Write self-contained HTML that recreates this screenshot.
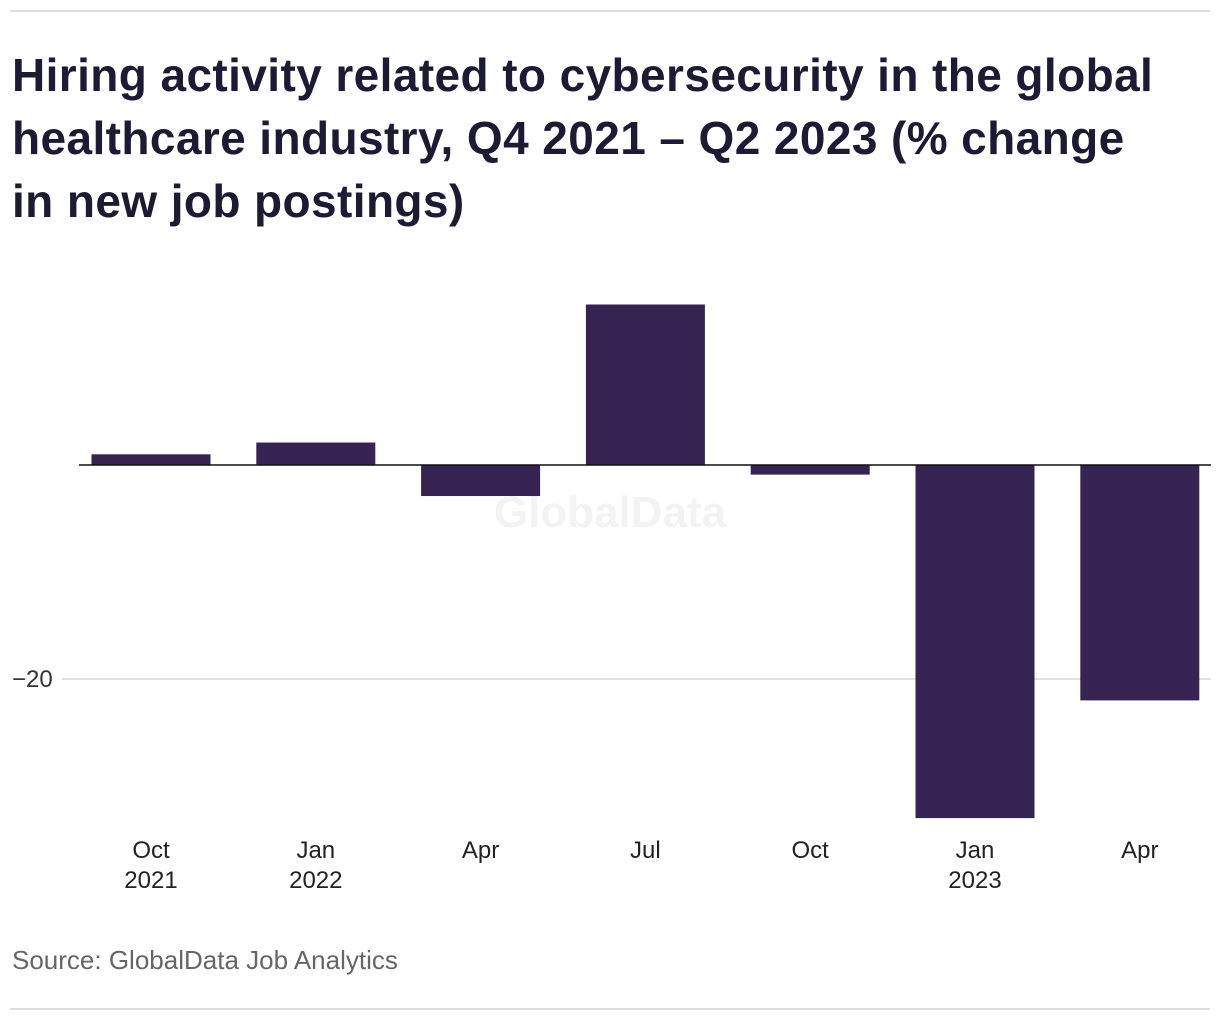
<!DOCTYPE html>
<html><head><meta charset="utf-8"><style>
body{margin:0;background:#fff;width:1220px;height:1020px;overflow:hidden;font-family:"Liberation Sans",sans-serif;}
.rule{position:absolute;left:10px;width:1200px;height:2px;background:#ddd;}
h1{position:absolute;left:12px;top:44px;margin:0;font-size:46px;line-height:63px;font-weight:bold;color:#1d1a33;width:1210px;letter-spacing:0.4px;white-space:nowrap}
.src{position:absolute;left:12px;top:945px;font-size:26px;color:#666;}
svg{position:absolute;left:0;top:0}
</style></head><body>
<div class="rule" style="top:10px"></div>
<h1>Hiring activity related to cybersecurity in the global<br>healthcare industry, Q4 2021 – Q2 2023 (% change<br>in new job postings)</h1>
<svg id="chart" width="1220" height="1020"></svg>
<div class="src">Source: GlobalData Job Analytics</div>
<div class="rule" style="top:1008px"></div>
<script>
const categories=["Oct","Jan","Apr","Jul","Oct","Jan","Apr"];
const years=["2021","2022","","","","2023",""];
const values=[1.0,2.1,-2.9,15.0,-0.9,-33.0,-22.0];
const yTicks=[-20];
const yTickLabels=["\u221220"];
const NS="http://www.w3.org/2000/svg";
const svg=document.getElementById('chart');
const y0=465,pxPer=10.7;
function y(v){return y0-v*pxPer;}
function xc(i){return 151+i*164.8;}
const bw=119;
function mk(t,a){const e=document.createElementNS(NS,t);for(const k in a)e.setAttribute(k,a[k]);svg.appendChild(e);return e;}
yTicks.forEach((t,i)=>{
 const g=mk('line',{x1:62,x2:1211,y1:y(t),y2:y(t),stroke:'#d6d6d6','stroke-width':1.5});
 
 
 const l=mk('text',{x:12,y:y(t)+8,'font-size':24,fill:'#333','font-family':'Liberation Sans'});
 l.textContent=yTickLabels[i];
 
 
});
const wm=mk('text',{x:610,y:527,'font-size':44,'font-weight':'bold',fill:'#f3f3f3','text-anchor':'middle','font-family':'Liberation Sans'});
wm.textContent='GlobalData';


values.forEach((v,i)=>{
 const top=Math.min(y(v),y0),h=Math.abs(y(v)-y0);
 const r=mk('rect',{x:xc(i)-bw/2,y:top,width:bw,height:h,fill:'#352451'});
 
 
 const t=mk('text',{x:xc(i),y:858,'font-size':24,fill:'#222','text-anchor':'middle','font-family':'Liberation Sans'});
 t.textContent=categories[i];
 
 
 if(years[i]){const t2=mk('text',{x:xc(i),y:888,'font-size':24,fill:'#222','text-anchor':'middle','font-family':'Liberation Sans'});
 t2.textContent=years[i];
 
 }
});
const ax=mk('line',{x1:79,x2:1211,y1:y0,y2:y0,stroke:'#111','stroke-width':1.5});


</script>
</body></html>
